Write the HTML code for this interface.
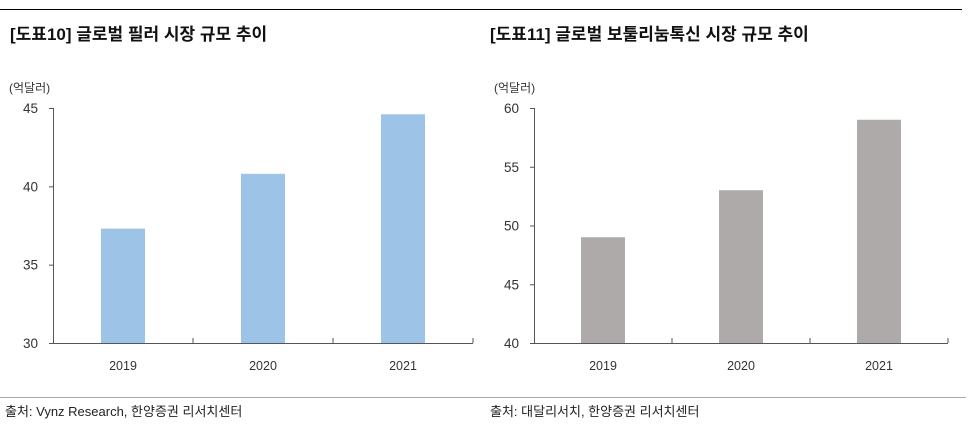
<!DOCTYPE html>
<html><head><meta charset="utf-8"><style>
body{margin:0;background:#fff;width:970px;height:428px;overflow:hidden;font-family:"Liberation Sans","Noto Sans CJK KR",sans-serif}
svg text{font-family:"Liberation Sans","Noto Sans CJK KR",sans-serif}
</style></head><body>
<svg id="c" width="970" height="428" xmlns="http://www.w3.org/2000/svg">
<line x1="0" y1="9.5" x2="962" y2="9.5" stroke="#000" stroke-width="1"/>
<line x1="0" y1="397.5" x2="966" y2="397.5" stroke="#aaa" stroke-width="1"/>
<text x="10" y="40" font-size="17" font-weight="bold" fill="#111">[도표10] 글로벌 필러 시장 규모 추이</text>
<text x="490" y="40" font-size="17" font-weight="bold" fill="#111">[도표11] 글로벌 보툴리눔톡신 시장 규모 추이</text>
<text x="9" y="92" font-size="12" fill="#333">(억달러)</text>
<text x="494" y="92" font-size="12" fill="#333">(억달러)</text>
<text x="5" y="416" font-size="13" fill="#222">출처: Vynz Research, 한양증권 리서치센터</text>
<text x="490" y="416" font-size="13" fill="#222">출처: 대달리서치, 한양증권 리서치센터</text>
<g id="left"></g>
<g id="right"></g>
</svg>
<script>
const categories = ["2019","2020","2021"];
const fillerValues = [37.3, 40.8, 44.6];
const fillerTicks = [30, 35, 40, 45];
const botoxValues = [49, 53, 59];
const botoxTicks = [40, 45, 50, 55, 60];
const NS = "http://www.w3.org/2000/svg";
function mk(g, tag, attrs){const e=document.createElementNS(NS,tag);for(const k in attrs)e.setAttribute(k,attrs[k]);g.appendChild(e);return e;}
function draw(gid, vals, ticks, x0, x1, color, prefix){
  const g=document.getElementById(gid);
  const yTop=108, yBot=343, min=ticks[0], max=ticks[ticks.length-1];
  const y=v=>yBot-(v-min)/(max-min)*(yBot-yTop);
  const cw=(x1-x0)/categories.length;
  const bw=44;
  vals.forEach((v,i)=>{
    const r=mk(g,"rect",{x:x0+cw*i+cw/2-bw/2,y:y(v),width:bw,height:yBot-y(v),fill:color});
    
    
    const t=mk(g,"text",{x:x0+cw*i+cw/2,y:370,"text-anchor":"middle","font-size":"12.5",fill:"#333"});
    t.textContent=categories[i];
    
    
  });
  ticks.forEach(tv=>{
    const t=mk(g,"text",{x:x0-15,y:y(tv)+5,"text-anchor":"end","font-size":"13.5",fill:"#333"});
    t.textContent=tv;
    
    
    const l=mk(g,"line",{x1:x0-4,x2:x0,y1:y(tv)+0.5,y2:y(tv)+0.5,stroke:"#555"});
    
    
  });
  const ya=mk(g,"line",{x1:x0+0.5,x2:x0+0.5,y1:yTop,y2:yBot,stroke:"#555"});
  
  
  const xa=mk(g,"line",{x1:x0,x2:x1,y1:yBot+0.5,y2:yBot+0.5,stroke:"#555"});
  
  
  for(let i=1;i<=categories.length;i++){
    const l=mk(g,"line",{x1:x0+cw*i,x2:x0+cw*i,y1:yBot,y2:yBot-5,stroke:"#555"});
    
    
  }
}
draw("left", fillerValues, fillerTicks, 53, 473, "#9dc3e6", "filler");
draw("right", botoxValues, botoxTicks, 534, 948, "#aeaaaa", "botox");
</script>
</body></html>
